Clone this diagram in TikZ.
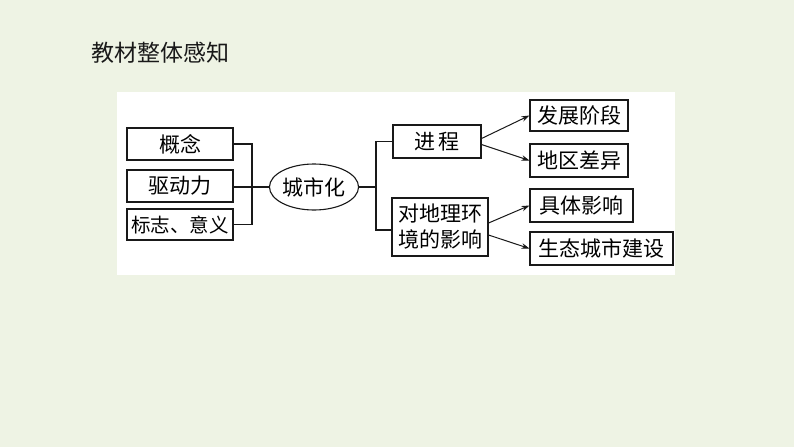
\documentclass[tikz,border=0pt]{standalone}
\usepackage{fontspec}
\setmainfont{Noto Sans CJK SC}
\usepackage{tikz}
\usetikzlibrary{arrows,arrows.meta,shapes,positioning}
\usepackage{xcolor}
\definecolor{pagegreen}{RGB}{238,243,228}
\definecolor{inkgray}{RGB}{25,25,25}
\tikzstyle{arrow} = [line width=1pt,-{Stealth[length=8pt,width=5.5pt]},color=inkgray]
\tikzstyle{link} = [line width=1.1pt,color=inkgray]
\tikzstyle{topic} = [rectangle, draw=inkgray, line width=1.1pt, fill=white, inner sep=0pt, text centered, minimum height=32pt, font=\fontsize{21}{24}\selectfont]
\tikzstyle{core} = [ellipse, draw=inkgray, line width=1.1pt, fill=white, inner sep=0pt, minimum width=84pt, minimum height=46pt, font=\fontsize{21}{24}\selectfont]

\begin{document}
\begin{tikzpicture}[x=1pt,y=-1pt]
\useasboundingbox[fill=pagegreen] (0,0) rectangle (794,447);
\fill[white] (117,92) rectangle (675,275);

% Title
\node (title) at (160,53) [font=\fontsize{23}{25}\selectfont, text=inkgray] {教材整体感知};

% Left side
\node (gainian) [topic, minimum width=106pt] at (180,144) {概念};
\node (qudong) [topic, minimum width=106pt] at (180,186) {驱动力};
\node (biaozhi) [topic, minimum width=106pt, minimum height=31pt, font=\fontsize{19.5}{22}\selectfont] at (180,224.5) {标志、意义};
\node (chengshihua) [core] at (314,187) {城市化};

% Middle
\node (jincheng) [topic, minimum width=88pt, minimum height=33pt] at (437,141.5) {进\,程};
\node (yingxiang) [topic, minimum width=96pt, minimum height=58pt, align=center, font=\fontsize{21}{26}\selectfont] at (440,227) {对地理环\\境的影响};

% Right side
\node (fazhan) [topic, minimum width=98pt, minimum height=31pt] at (579,115.5) {发展阶段};
\node (diqu) [topic, minimum width=98pt, minimum height=33pt] at (579,160.5) {地区差异};
\node (juti) [topic, minimum width=103pt, minimum height=33pt] at (581.5,205.5) {具体影响};
\node (shengtai) [topic, minimum width=143pt, minimum height=33pt] at (601.5,248.5) {生态城市建设};

% Brackets
\coordinate (lj) at (252,187);
\coordinate (rj) at (376,187);
\draw[link] (gainian.east) -| (lj) |- (biaozhi.east);
\draw[link] (qudong.east |- lj) -- (chengshihua.west);
\draw[link] (chengshihua.east) -- (rj);
\draw[link] (jincheng.west) -| (rj) |- ([yshift=-3pt]yingxiang.west);

% Arrows
\draw[arrow] ([yshift=3pt]jincheng.east) -- (fazhan.west);
\draw[arrow] ([yshift=-3pt]jincheng.east) -- (diqu.west);
\draw[arrow] ([yshift=4pt]yingxiang.east) -- (juti.west);
\draw[arrow] ([yshift=-8pt]yingxiang.east) -- (shengtai.west);
\end{tikzpicture}
\end{document}
